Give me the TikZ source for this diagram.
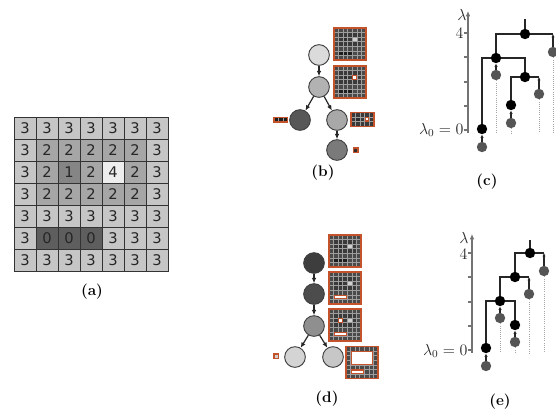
\documentclass[tikz,border=0pt]{standalone}
\usepackage{fontspec}
\newfontfamily\digitfont{DejaVu Sans}
\usetikzlibrary{arrows.meta}

\definecolor{lvl0}{HTML}{5E5E5E}
\definecolor{lvl1}{HTML}{858585}
\definecolor{lvl2}{HTML}{A6A6A6}
\definecolor{lvl3}{HTML}{C6C6C6}
\definecolor{lvl4}{HTML}{EEEEEE}
\definecolor{thumb0}{HTML}{1E1E1E}
\definecolor{thumb1}{HTML}{2E2E2E}
\definecolor{thumb2}{HTML}{3A3A3A}
\definecolor{thumb3}{HTML}{4A4A4A}
\definecolor{thumb4}{HTML}{D0D0D0}
\definecolor{frame}{HTML}{C4532C}
\definecolor{leafgray}{HTML}{555555}

% the 7x7 image, row by row
\def\imgval{{3,3,3,3,3,3,3, 3,2,2,2,2,2,3, 3,2,1,2,4,2,3, 3,2,2,2,2,2,3, 3,3,3,3,3,3,3, 3,0,0,0,3,3,3, 3,3,3,3,3,3,3}}

% small copy of the image: x, y (top left), rows #3..#4, columns #5..#6
\newcommand{\thumb}[6]{%
  \foreach \r in {#3,...,#4} \foreach \c in {#5,...,#6} {
    \pgfmathtruncatemacro\v{\imgval[\r*7+\c]}
    \filldraw[fill=thumb\v, draw=black!38, line width=0.35pt]
      ({#1+4.57*(\c-#5)},{#2+4.57*(\r-#3)}) rectangle ++(4.57,4.57);
  }
  \draw[frame, line width=1pt] (#1,#2) rectangle ({#1+4.57*(#6-#5+1)},{#2+4.57*(#4-#3+1)});
}
% white box over cells: x, y (top left of thumb), rows #3..#4, columns #5..#6
\newcommand{\hilite}[6]{%
  \filldraw[fill=white, draw=frame, line width=0.9pt]
    ({#1+4.57*#5+0.6},{#2+4.57*#3+0.6}) rectangle ({#1+4.57*(#6+1)-0.6},{#2+4.57*(#4+1)-0.6});
}

\tikzset{
  cellbox/.style={draw=black!80, line width=0.6pt, minimum size=16.5pt, inner sep=0pt,
    font=\digitfont\fontsize{11}{12}\selectfont, text=black!85},
  treenode/.style={circle, draw=black!75, line width=0.7pt, minimum size=15.5pt, inner sep=0pt},
  branch/.style={-{Latex[length=4pt,width=3.5pt]}, line width=0.9pt, black!85},
  merged/.style={circle, fill=black, minimum size=7.8pt, inner sep=0pt},
  leaf/.style={circle, fill=leafgray, minimum size=7.8pt, inner sep=0pt},
  link/.style={line width=0.9pt, black!85},
  uplink/.style={link, -{Latex[length=2.5pt,width=2.5pt]}},
  trail/.style={densely dotted, black!35, line width=0.6pt},
  levelaxis/.style={black!55, line width=0.9pt},
  axislabel/.style={font=\fontsize{12}{14}\selectfont, text=black!85, inner sep=1pt},
  caption/.style={font=\bfseries\fontsize{11.5}{13}\selectfont},
}

\begin{document}
\begin{tikzpicture}[x=0.75pt, y=-0.75pt]
  \useasboundingbox (0,0) rectangle (556,408);
  \clip (0,0) rectangle (556,408);

  % (a) the image
  \foreach \r in {0,...,6} \foreach \c in {0,...,6} {
    \pgfmathtruncatemacro\v{\imgval[\r*7+\c]}
    \node[cellbox, fill=lvl\v] (a-\r-\c) at ({25+22*\c},{128+22*\r}) {\v};
  }
  \node[caption] (cap-a) at (92,292) {(a)};

  % (b) tree
  \node[treenode, fill=black!14] (b1) at (319,55) {};
  \node[treenode, fill=black!30] (b2) at (319,87) {};
  \node[treenode, fill=black!66] (b3) at (300,120) {};
  \node[treenode, fill=black!34] (b4) at (337,120) {};
  \node[treenode, fill=black!52] (b5) at (337,150) {};
  \draw[branch] (b1) -- (b2);
  \draw[branch] (b2) -- (b3);
  \draw[branch] (b2) -- (b4);
  \draw[branch] (b4) -- (b5);
  \thumb{334}{28}{0}{6}{0}{6}
  \thumb{334}{66}{0}{6}{0}{6}
  \hilite{334}{66}{2}{2}{4}{4}
  \thumb{351}{112.5}{1}{3}{1}{5}
  \hilite{351}{112.5}{1}{1}{3}{3}
  \thumb{274}{117.5}{5}{5}{1}{3}
  \thumb{353.5}{148}{2}{2}{2}{2}
  \node[caption] (cap-b) at (323,173) {(b)};

  % (c) levels
  \coordinate (c-base) at (468,133);
  \draw[levelaxis, -{Latex[length=4pt,width=3.5pt]}] (c-base) -- (468,11);
  \foreach \y in {33,57,82,106,130} \draw[levelaxis] (468,\y) -- (464,\y);
  \node[axislabel] (c-lam) at (462,15) {$\lambda$};
  \node[axislabel, anchor=east] (c-four) at (465,33) {4};
  \node[axislabel, anchor=east] (c-zero) at (465,130) {$\lambda_0 = 0$};
  \node[merged] (c4) at (525,34) {};
  \node[merged] (c3) at (496,58) {};
  \node[merged] (c2) at (525,77) {};
  \node[merged] (c1) at (511,105) {};
  \node[merged] (c0) at (482,129) {};
  \node[leaf] (g0) at (482,147) {};
  \node[leaf] (g1) at (511,123) {};
  \node[leaf] (g2) at (539,94) {};
  \node[leaf] (g3) at (496,75) {};
  \node[leaf] (g4) at (553,52) {};
  \coordinate (c-top) at (525,19);
  \foreach \g in {g1,g2,g3,g4} \draw[trail] (\g) -- (\g |- c-base);
  \draw[link] (c4) -- (c-top);
  \draw[link] (c4) -| (c3);
  \draw[link] (c4) -- (c4 -| g4);
  \draw[uplink] (g4) -- (c4 -| g4);
  \draw[link] (c3) -| (c0);
  \draw[link] (c3) -| (c2);
  \draw[uplink] (g3) -- (c3);
  \draw[link] (c2) -| (c1);
  \draw[link] (c2) -- (c2 -| g2);
  \draw[uplink] (g2) -- (c2 -| g2);
  \draw[uplink] (g1) -- (c1);
  \draw[uplink] (g0) -- (c0);
  \node[caption] (cap-c) at (487,182) {(c)};

  % (d) tree
  \node[treenode, fill=black!76] (d1) at (314,263) {};
  \node[treenode, fill=black!70] (d2) at (314,294) {};
  \node[treenode, fill=black!44] (d3) at (314,326) {};
  \node[treenode, fill=black!17] (d4) at (295,357) {};
  \node[treenode, fill=black!22] (d5) at (333,357) {};
  \draw[branch] (d1) -- (d2);
  \draw[branch] (d2) -- (d3);
  \draw[branch] (d3) -- (d4);
  \draw[branch] (d3) -- (d5);
  \thumb{329}{235}{0}{6}{0}{6}
  \thumb{329}{272}{0}{6}{0}{6}
  \hilite{329}{272}{5}{5}{1}{3}
  \thumb{329}{309}{0}{6}{0}{6}
  \hilite{329}{309}{5}{5}{1}{3}
  \hilite{329}{309}{2}{2}{2}{2}
  \thumb{346}{346.5}{0}{6}{0}{6}
  \hilite{346}{346.5}{1}{3}{1}{5}
  \hilite{346}{346.5}{5}{5}{1}{3}
  \thumb{274}{354}{2}{2}{4}{4}
  \node[caption] (cap-d) at (327,399) {(d)};

  % (e) levels
  \coordinate (e-base) at (472,353);
  \draw[levelaxis, -{Latex[length=4pt,width=3.5pt]}] (e-base) -- (472,234);
  \foreach \y in {253,277,302,326,350} \draw[levelaxis] (472,\y) -- (468,\y);
  \node[axislabel] (e-lam) at (464,238) {$\lambda$};
  \node[axislabel, anchor=east] (e-four) at (469,254) {4};
  \node[axislabel, anchor=east] (e-zero) at (469,351) {$\lambda_0 = 0$};
  \node[merged] (e4) at (530,253) {};
  \node[merged] (e3) at (515,277) {};
  \node[merged] (e2) at (500,301) {};
  \node[merged] (e1) at (515,325) {};
  \node[merged] (e0) at (486,348) {};
  \node[leaf] (f0) at (486,366) {};
  \node[leaf] (f1) at (515,342) {};
  \node[leaf] (f2) at (500,318) {};
  \node[leaf] (f3) at (529,294) {};
  \node[leaf] (f4) at (544,271) {};
  \coordinate (e-top) at (530,240);
  \foreach \f in {f1,f2,f3,f4} \draw[trail] (\f) -- (\f |- e-base);
  \draw[link] (e4) -- (e-top);
  \draw[link] (e4) -| (e3);
  \draw[link] (e4) -- (e4 -| f4);
  \draw[uplink] (f4) -- (e4 -| f4);
  \draw[link] (e3) -| (e2);
  \draw[link] (e3) -- (e3 -| f3);
  \draw[uplink] (f3) -- (e3 -| f3);
  \draw[link] (e2) -| (e0);
  \draw[link] (e2) -| (e1);
  \draw[uplink] (f2) -- (e2);
  \draw[uplink] (f1) -- (e1);
  \draw[uplink] (f0) -- (e0);
  \node[caption] (cap-e) at (500,402) {(e)};
\end{tikzpicture}
\end{document}
